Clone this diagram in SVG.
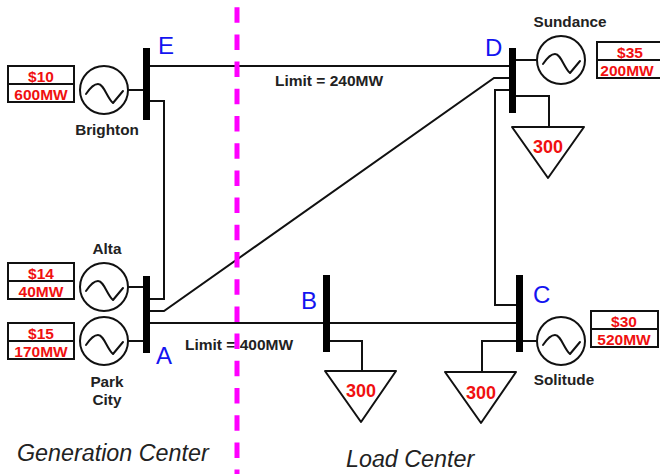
<svg xmlns="http://www.w3.org/2000/svg" width="660" height="474" viewBox="0 0 660 474">
<defs>
<style>
text{font-family:"Liberation Sans",Arial,sans-serif}
.w{fill:none;stroke:#111;stroke-width:2}
.bus{fill:#000}
.gen{fill:#fff;stroke:#111;stroke-width:2}
.wave{fill:none;stroke:#111;stroke-width:2;stroke-linejoin:round;stroke-linecap:round}
.box{fill:#fff;stroke:#111;stroke-width:2}
.price{font-weight:bold;font-size:15.5px;fill:#f01010;text-anchor:middle}
.load{fill:#fff;stroke:#111;stroke-width:2;stroke-linejoin:round}
.loadt{font-weight:bold;font-size:18px;fill:#f01010;text-anchor:middle}
.name{font-weight:bold;font-size:15.3px;fill:#222;text-anchor:middle}
.lim{font-weight:bold;font-size:15.5px;fill:#222}
.busl{font-size:24px;fill:#1414f0}
.area{font-size:23.3px;font-style:italic;fill:#222}
</style>
<path id="sine" d="M-18 4C-14 -2 -10 -6 -6 -6C0 -6 3 8 9 13L19 1" class="wave"/>
</defs>
<g id="connectors">
<path class="w" d="M150 66H509"/>
<path class="w" d="M150 101H164V299H150"/>
<path class="w" d="M150 311H164L494 78H509"/>
<path class="w" d="M150 323H516"/>
<path class="w" d="M509 90H495V305H516"/>
<path class="w" d="M516 96H549V127"/>
<path class="w" d="M330 341H362V371"/>
<path class="w" d="M516 341H482V372"/>
<path class="w" d="M128 90H143M128 287H143M128 341H143M516 60H537M523 341H537"/>
</g>
<g id="bus-E"><rect class="bus" x="143" y="48" width="7" height="72"/><text class="busl" x="158" y="54">E</text></g>
<g id="bus-A"><rect class="bus" x="143" y="276" width="7" height="77"/><text class="busl" x="156" y="364">A</text></g>
<g id="bus-B"><rect class="bus" x="323" y="275" width="7" height="77"/><text class="busl" x="301" y="309">B</text></g>
<g id="bus-C"><rect class="bus" x="516" y="275" width="7" height="77"/><text class="busl" x="533" y="303">C</text></g>
<g id="bus-D"><rect class="bus" x="509" y="48" width="7" height="65"/><text class="busl" x="485" y="56">D</text></g>
<g id="gen-brighton">
<circle class="gen" cx="104" cy="90" r="24"/><use href="#sine" x="104" y="90"/>
<rect class="box" x="8" y="66" width="66" height="36"/><line class="w" x1="8" y1="84" x2="74" y2="84"/>
<text class="price" x="41" y="82">$10</text><text class="price" x="41" y="100">600MW</text>
<text class="name" x="107" y="135">Brighton</text>
</g>
<g id="gen-alta">
<circle class="gen" cx="104" cy="287" r="24"/><use href="#sine" x="104" y="287"/>
<rect class="box" x="8" y="263" width="66" height="36"/><line class="w" x1="8" y1="281" x2="74" y2="281"/>
<text class="price" x="41" y="279">$14</text><text class="price" x="41" y="297">40MW</text>
<text class="name" x="107" y="254">Alta</text>
</g>
<g id="gen-park-city">
<circle class="gen" cx="104" cy="341" r="24"/><use href="#sine" x="104" y="341"/>
<rect class="box" x="8" y="323" width="66" height="36"/><line class="w" x1="8" y1="341" x2="74" y2="341"/>
<text class="price" x="41" y="339">$15</text><text class="price" x="41" y="357">170MW</text>
<text class="name" x="107" y="387">Park</text><text class="name" x="107" y="405">City</text>
</g>
<g id="gen-sundance">
<circle class="gen" cx="561" cy="60" r="24"/><use href="#sine" x="561" y="60"/>
<rect class="box" x="597" y="42" width="66" height="36"/><line class="w" x1="597" y1="60" x2="663" y2="60"/>
<text class="price" x="630" y="58">$35</text><text class="price" x="627" y="76">200MW</text>
<text class="name" x="570" y="27">Sundance</text>
</g>
<g id="gen-solitude">
<circle class="gen" cx="561" cy="341" r="24"/><use href="#sine" x="561" y="341"/>
<rect class="box" x="591" y="311" width="67" height="36"/><line class="w" x1="591" y1="329" x2="658" y2="329"/>
<text class="price" x="624" y="327">$30</text><text class="price" x="624" y="345">520MW</text>
<text class="name" x="564" y="385">Solitude</text>
</g>
<g id="load-D"><path class="load" d="M512 127H584L548 178Z"/><text class="loadt" x="548" y="153">300</text></g>
<g id="load-B"><path class="load" d="M325 371H396L361 422Z"/><text class="loadt" x="361" y="397">300</text></g>
<g id="load-C"><path class="load" d="M445 372H516L481 423Z"/><text class="loadt" x="481" y="399">300</text></g>
<g id="labels">
<text class="lim" x="275" y="86">Limit = 240MW</text>
<text class="lim" x="185" y="350">Limit = 400MW</text>
<text class="area" x="17" y="461">Generation Center</text>
<text class="area" x="346" y="467">Load Center</text>
</g>
<g id="divider"><line x1="237" y1="-20" x2="237" y2="474" stroke="#ff00ff" stroke-width="5" stroke-dasharray="15.5 11.7"/></g>
</svg>
